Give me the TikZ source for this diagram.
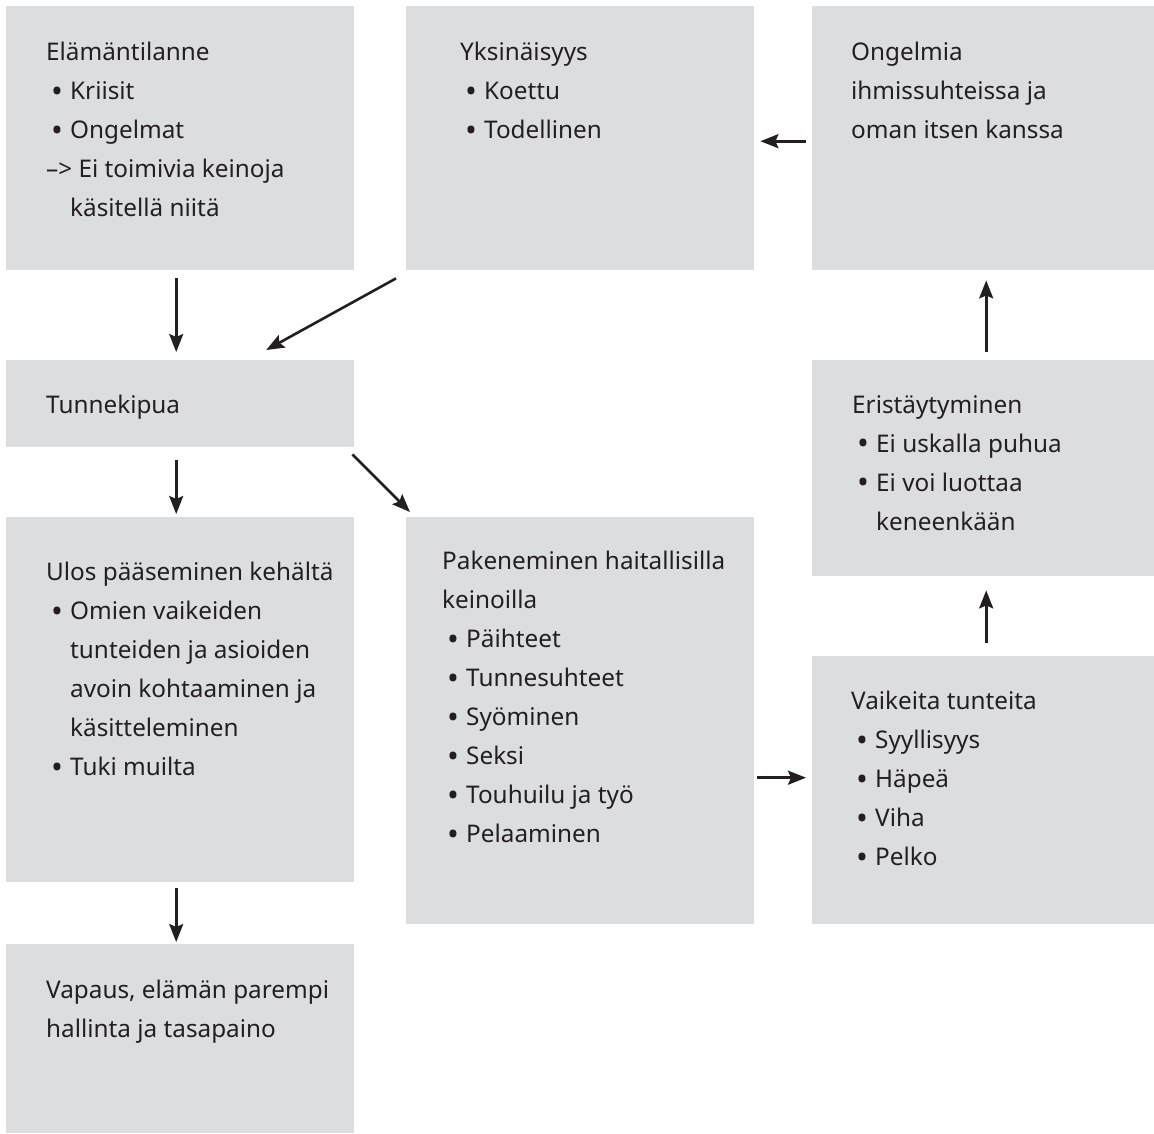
\documentclass[tikz,border=0pt]{standalone}
\usepackage{fontspec}
\setmainfont{Noto Sans}
\usetikzlibrary{arrows.meta}
\definecolor{boxgray}{HTML}{DCDDDF}
\definecolor{ink}{HTML}{231F20}
\newcommand{\bul}{\hspace*{5pt}\makebox[19pt][l]{\raisebox{-2.5pt}{\scalebox{1.3}{•}}}}
\newcommand{\ind}{\hspace*{24pt}}

\begin{document}
\begin{tikzpicture}[x=1pt,y=-1pt]
\tikzset{box/.style={fill=boxgray,inner sep=0pt,anchor=north west,minimum width=348}}
\tikzset{txt/.style={anchor=north west,inner sep=0pt,align=left,text=ink,font=\fontsize{24.3}{39}\selectfont}}
\tikzset{arr/.style={-{Stealth[length=18pt,width=14pt,inset=3pt]},line width=2.6pt,draw=ink}}

\useasboundingbox (0,0) rectangle (1154,1133);

\node[box,minimum height=264] (elam) at (6,6) {};
\node[box,minimum height=264] (yks) at (406,6) {};
\node[box,minimum height=264] (ong) at (812,6) {};
\node[box,minimum height=87] (tunne) at (6,360) {};
\node[box,minimum height=216] (eri) at (812,360) {};
\node[box,minimum height=365] (ulos) at (6,517) {};
\node[box,minimum height=407] (pak) at (406,517) {};
\node[box,minimum height=268] (vai) at (812,656) {};
\node[box,minimum height=189] (vap) at (6,944) {};

\node[txt] (elamtxt) at (46,42) {Elämäntilanne\\ \bul Kriisit\\ \bul Ongelmat\\ –> Ei toimivia keinoja\\ \ind käsitellä niitä};
\node[txt] (ykstxt) at (460,42) {Yksinäisyys\\ \bul Koettu\\ \bul Todellinen};
\node[txt] (ongtxt) at (851,42) {Ongelmia\\ ihmissuhteissa ja\\ oman itsen kanssa};
\node[txt] (tunnetxt) at (46,395) {Tunnekipua};
\node[txt] (eritxt) at (852,395) {Eristäytyminen\\ \bul Ei uskalla puhua\\ \bul Ei voi luottaa\\ \ind keneenkään};
\node[txt] (ulostxt) at (46,562) {Ulos pääseminen kehältä\\ \bul Omien vaikeiden\\ \ind tunteiden ja asioiden\\ \ind avoin kohtaaminen ja\\ \ind käsitteleminen\\ \bul Tuki muilta};
\node[txt] (paktxt) at (442,551) {Pakeneminen haitallisilla\\ keinoilla\\ \bul Päihteet\\ \bul Tunnesuhteet\\ \bul Syöminen\\ \bul Seksi\\ \bul Touhuilu ja työ\\ \bul Pelaaminen};
\node[txt] (vaitxt) at (851,691) {Vaikeita tunteita\\ \bul Syyllisyys\\ \bul Häpeä\\ \bul Viha\\ \bul Pelko};
\node[txt] (vaptxt) at (46,980) {Vapaus, elämän parempi\\ hallinta ja tasapaino};

\draw[arr,shorten <=8,shorten >=8] ([xshift=-4]elam.south) -- ([xshift=-4]tunne.north);
\draw[arr] ([shift={(-10,8)}]yks.south west) -- ([shift={(86,-10)}]tunne.north);
\draw[arr,shorten <=6,shorten >=6] ([yshift=-3]ong.west) -- ([yshift=-3]yks.east);
\draw[arr,shorten <=13,shorten >=3] ([xshift=-4]tunne.south) -- ([xshift=-4]ulos.north);
\draw[arr] ([shift={(-2,7)}]tunne.south east) -- ([shift={(4,-5)}]pak.north west);
\draw[arr,shorten <=6,shorten >=2] ([xshift=-4]ulos.south) -- ([xshift=-4]vap.north);
\draw[arr,shorten <=3,shorten >=6] ([yshift=-57]pak.east) -- ([yshift=-57]pak.east -| vai.west);
\draw[arr,shorten <=13,shorten >=14] (vai.north) -- (eri.south);
\draw[arr,shorten <=8,shorten >=10] (eri.north) -- (ong.south);

\end{tikzpicture}
\end{document}
